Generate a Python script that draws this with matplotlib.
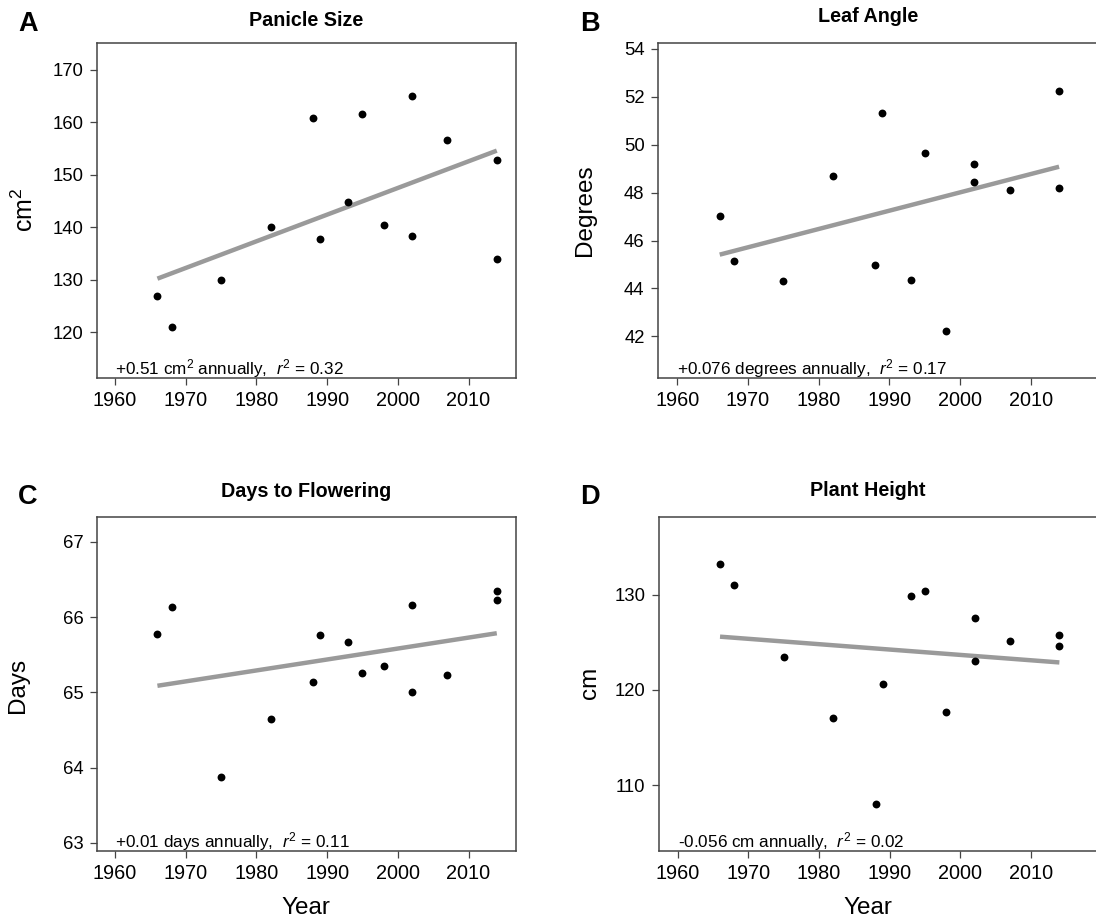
"""
Four-panel trait trends over release year.
"""

import numpy as np
import matplotlib.pyplot as plt

plt.rcParams['font.family'] = ['Liberation Sans', 'DejaVu Sans']
plt.rcParams['mathtext.fontset'] = 'custom'
plt.rcParams['mathtext.rm'] = 'Liberation Sans'
plt.rcParams['mathtext.it'] = 'Liberation Sans:italic'
plt.rcParams['axes.edgecolor'] = '#444444'
plt.rcParams['xtick.color'] = '#444444'
plt.rcParams['ytick.color'] = '#444444'
plt.rcParams['xtick.labelcolor'] = 'black'
plt.rcParams['ytick.labelcolor'] = 'black'

# Data
years = [1966, 1968, 1975, 1982, 1988, 1989, 1993, 1995, 1998, 2002, 2002, 2007, 2014, 2014]
panicle_size = [126.9, 121.1, 130.0, 140.0, 160.9, 137.8, 144.9, 161.5, 140.4, 165.1, 138.4, 156.7, 152.8, 134.0]
leaf_angle = [47.03, 45.16, 44.30, 48.71, 44.97, 51.34, 44.35, 49.67, 42.24, 49.20, 48.43, 48.13, 52.26, 48.20]
days_flowering = [65.78, 66.14, 63.87, 64.65, 65.13, 65.76, 65.67, 65.26, 65.35, 66.16, 65.01, 65.23, 66.34, 66.23]
plant_height = [133.2, 131.0, 123.5, 117.1, 108.05, 120.6, 129.9, 130.4, 117.7, 127.5, 123.0, 125.1, 125.8, 124.6]

titles = ['Panicle Size', 'Leaf Angle', 'Days to Flowering', 'Plant Height']
letters = ['A', 'B', 'C', 'D']
ylabels = ['cm$^2$', 'Degrees', 'Days', 'cm']
notes = [r'+0.51 cm$^2$ annually,  $r^2$ = 0.32',
         r'+0.076 degrees annually,  $r^2$ = 0.17',
         r'+0.01 days annually,  $r^2$ = 0.11',
         r'-0.056 cm annually,  $r^2$ = 0.02']
yticks = [[120, 130, 140, 150, 160, 170],
          [42, 44, 46, 48, 50, 52, 54],
          [63, 64, 65, 66, 67],
          [110, 120, 130]]
ylims = [(111.3, 175.1), (40.26, 54.25), (62.89, 67.33), (103.12, 138.13)]
series = [panicle_size, leaf_angle, days_flowering, plant_height]

W, H = 1096, 921
fig = plt.figure(figsize=(W / 100, H / 100), dpi=100)

# axes boxes in pixels: left, top, right, bottom
boxes = [(97, 43, 516, 378), (658, 43, 1099, 378),
         (97, 517, 516, 851), (659, 517, 1100, 851)]
px_per_year = 7.07
tick1960 = [115, 677.3, 115, 677.6]
title_pos = [(306, 20), (868, 17), (306, 491), (868, 490)]
letter_pos = [(28, 24), (590, 24), (28, 497), (590, 497)]
ylabel_pos = [(25, 210), (585, 210), (18, 685), (590, 683)]


def fx(x):
    return x / W


def fy(y):
    return 1 - y / H


for i in range(4):
    l, t, r, b = boxes[i]
    ax = fig.add_axes([fx(l), fy(b), (r - l) / W, (b - t) / H])
    x = np.array(years, dtype=float)
    y = np.array(series[i])
    ax.scatter(x, y, s=32, color='black', zorder=3, linewidths=0)
    slope, icpt = np.polyfit(x, y, 1)
    xs = np.array([x.min(), x.max()])
    ax.plot(xs, slope * xs + icpt, color='#9a9a9a', lw=3.2, zorder=2,
            solid_capstyle='butt')

    ax.set_xlim(1960 - (tick1960[i] - l) / px_per_year,
                1960 + (r - tick1960[i]) / px_per_year)
    ax.set_ylim(*ylims[i])
    ax.set_xticks([1960, 1970, 1980, 1990, 2000, 2010])
    ax.set_yticks(yticks[i])
    ax.tick_params(direction='out', length=5, width=0.9)
    ax.tick_params(axis='x', labelsize=14.3, pad=4)
    ax.tick_params(axis='y', labelsize=13.3, pad=4.7)
    for sp in ax.spines.values():
        sp.set_linewidth(1.1)

    ax.text(1960, 0.012, notes[i], transform=ax.get_xaxis_transform(),
            fontsize=12.3, ha='left', va='baseline')

    fig.text(fx(title_pos[i][0]), fy(title_pos[i][1]), titles[i],
             fontsize=14.2, fontweight='bold', ha='center', va='center')
    fig.text(fx(letter_pos[i][0]), fy(letter_pos[i][1]), letters[i],
             fontsize=19.5, fontweight='bold', ha='center', va='center')
    fig.text(fx(ylabel_pos[i][0]), fy(ylabel_pos[i][1]), ylabels[i],
             fontsize=18 if i == 0 else 17.5, rotation=90,
             ha='center', va='center')

fig.text(fx(306), fy(908), 'Year', fontsize=17.5, ha='center', va='center')
fig.text(fx(868), fy(908), 'Year', fontsize=17.5, ha='center', va='center')

plt.savefig('out.png', dpi=100)
plt.close()
